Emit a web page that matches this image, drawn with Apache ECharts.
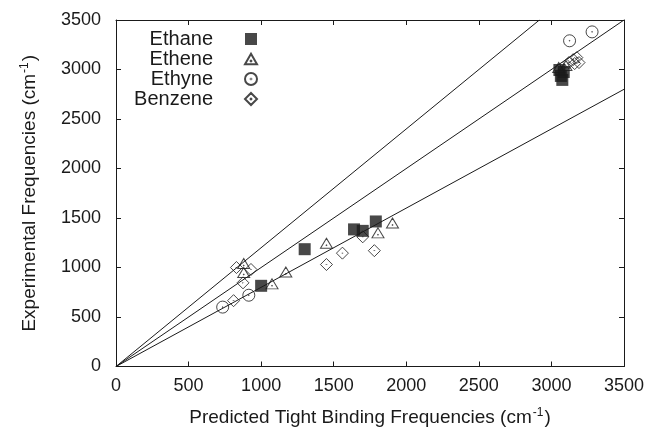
<!DOCTYPE html>
<html>
<head>
<meta charset="utf-8">
<script src="https://cdn.jsdelivr.net/npm/echarts@6/dist/echarts.min.js"></script>
<style>
  html, body { margin: 0; padding: 0; background: #fff; }
  #chart { width: 652px; height: 432px; }
</style>
</head>
<body>
<div id="chart"></div>
<script>
// predicted (x) vs experimental (y) frequencies, cm^-1
const ethane = [
    [1000, 815], [1300, 1185], [1640, 1385], [1700, 1370], [1790, 1465],
    [3055, 2995], [3085, 2975], [3065, 2935], [3075, 2895]
];
const ethene = [
    [880, 1040], [880, 950], [1075, 835], [1170, 955], [1450, 1245],
    [1805, 1350], [1905, 1450], [3050, 3020], [3100, 3040]
];
const ethyne = [
    [735, 600], [915, 720], [3125, 3290], [3280, 3380]
];
const benzene = [
    [830, 1000], [930, 980], [875, 845], [810, 665], [1450, 1030],
    [1560, 1145], [1700, 1310], [1780, 1170],
    [3120, 3070], [3150, 3100], [3175, 3120], [3190, 3070], [3160, 3060]
];
// reference lines through the origin: y = 1.2x, y = x, y = 0.8x
const line12 = [[0, 0], [2917, 3500]];
const line10 = [[0, 0], [3500, 3500]];
const line08 = [[0, 0], [3500, 2800]];

const axisTicks = [0, 500, 1000, 1500, 2000, 2500, 3000, 3500];

const ink = '#1a1a1a';
const font = 'Liberation Sans, Arial, Helvetica, sans-serif';

const triPath = 'path://M0,-10 L11.5,10 L-11.5,10 Z M0,3.3 L0.6,3.9 L0,4.5 L-0.6,3.9 Z';
const circPath = 'path://M-10,0 A10,10 0 1,0 10,0 A10,10 0 1,0 -10,0 Z M-0.6,0 A0.6,0.6 0 1,0 0.6,0 A0.6,0.6 0 1,0 -0.6,0 Z';
const diaPath = 'path://M0,-10 L10,0 L0,10 L-10,0 Z M0,-0.6 L0.6,0 L0,0.6 L-0.6,0 Z';

const chart = echarts.init(document.getElementById('chart'), null, { renderer: 'canvas' });

const baseAxis = {
    min: axisTicks[0],
    max: axisTicks[axisTicks.length - 1],
    interval: 500,
    axisLine: { show: true, onZero: false, lineStyle: { color: ink, width: 1 } },
    axisTick: { show: true, inside: true, length: 5, lineStyle: { color: ink } },
    splitLine: { show: false }
};

function refLine(data) {
    return {
        type: 'line',
        data: data,
        symbol: 'none',
        silent: true,
        lineStyle: { color: ink, width: 1 },
        z: 1
    };
}

const hollow = { color: 'rgba(0,0,0,0)', borderColor: ink, borderWidth: 1 };
const plain = (v) => String(v);

chart.setOption({
    animation: false,
    backgroundColor: '#fff',
    grid: { left: 116, right: 28, top: 20, bottom: 63 },
    legend: {
        orient: 'vertical',
        left: 118,
        top: 24,
        align: 'right',
        itemWidth: 12,
        itemHeight: 12,
        itemGap: 0,
        selectedMode: false,
        data: ['Ethane', 'Ethene', 'Ethyne', 'Benzene'],
        formatter: '{a|{name}}',
        textStyle: {
            fontFamily: font,
            fontSize: 20,
            color: ink,
            rich: { a: { fontFamily: font, fontSize: 20, lineHeight: 17, color: ink, width: 90, align: 'right', padding: [0, 27, 0, 0] } }
        }
    },
    xAxis: [
        Object.assign({}, baseAxis, {
            type: 'value',
            position: 'bottom',
            name: '{t|Predicted Tight Binding Frequencies (cm}{s|-1}{t|)}',
            nameLocation: 'middle',
            nameGap: 40,
            nameTextStyle: {
                rich: {
                    t: { fontFamily: font, fontSize: 19, color: ink },
                    s: { fontFamily: font, fontSize: 12, color: ink, verticalAlign: 'top', padding: [0, 1, 10, 1] }
                }
            },
            axisLabel: { fontFamily: font, fontSize: 18, color: ink, margin: 11, formatter: plain }
        }),
        Object.assign({}, baseAxis, {
            type: 'value',
            position: 'top',
            axisLabel: { show: false }
        })
    ],
    yAxis: [
        Object.assign({}, baseAxis, {
            type: 'value',
            position: 'left',
            name: '{t|Experimental Frequencies (cm}{s|-1}{t|)}',
            nameLocation: 'middle',
            nameGap: 75,
            nameTextStyle: {
                rich: {
                    t: { fontFamily: font, fontSize: 19, color: ink },
                    s: { fontFamily: font, fontSize: 12, color: ink, verticalAlign: 'top', padding: [0, 1, 10, 1] }
                }
            },
            axisLabel: { fontFamily: font, fontSize: 18, color: ink, margin: 15, formatter: plain }
        }),
        Object.assign({}, baseAxis, {
            type: 'value',
            position: 'right',
            axisLabel: { show: false }
        })
    ],
    series: [
        refLine(line12),
        refLine(line10),
        refLine(line08),
        {
            name: 'Ethane', type: 'scatter', data: ethane,
            symbol: 'rect', symbolSize: 12,
            itemStyle: { color: ink, borderColor: ink, borderWidth: 0 }, z: 3
        },
        {
            name: 'Ethene', type: 'scatter', data: ethene,
            symbol: triPath, symbolSize: [12, 10],
            itemStyle: hollow, z: 3
        },
        {
            name: 'Ethyne', type: 'scatter', data: ethyne,
            symbol: circPath, symbolSize: 12,
            itemStyle: hollow, z: 3
        },
        {
            name: 'Benzene', type: 'scatter', data: benzene,
            symbol: diaPath, symbolSize: 12,
            itemStyle: hollow, z: 3
        }
    ]
});
</script>
</body>
</html>
